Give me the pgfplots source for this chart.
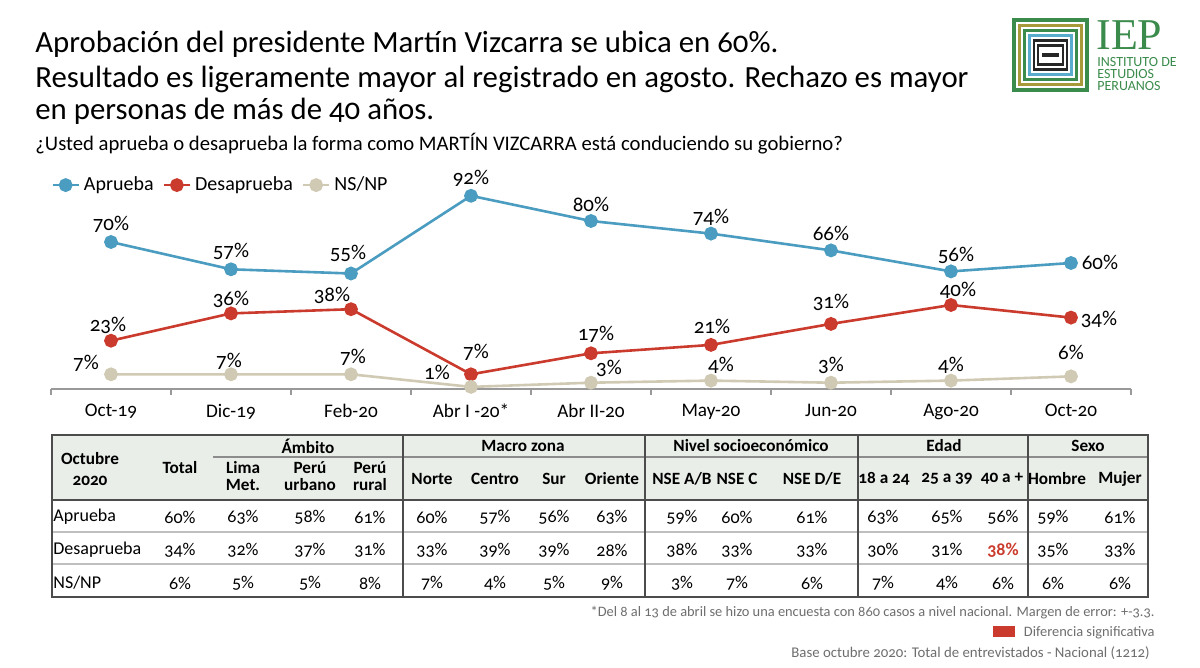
\documentclass[border=0pt]{standalone}
\usepackage{fontspec}
\setmainfont{Carlito}[Numbers=OldStyle]
\newfontfamily\serifF{Liberation Serif}
\usepackage{pgfplots}
\pgfplotsset{compat=1.18}
\definecolor{cA}{HTML}{4A9CC0}
\definecolor{cD}{HTML}{CB3B2D}
\definecolor{cN}{HTML}{D0CAB4}
\definecolor{hdr}{HTML}{E9EEE9}
\definecolor{logoG}{HTML}{3B8C4C}
\definecolor{logoO}{HTML}{A8993A}
\definecolor{logoB}{HTML}{5AACCF}
\definecolor{fng}{HTML}{6E6E6E}
\newcommand{\tf}{\fontsize{9}{10.5}\selectfont}
\newcommand{\thf}{\fontsize{8.6}{10.5}\selectfont}
\newcommand{\lblfont}{\fontsize{10.5}{12}\selectfont}
\newcommand{\fnf}{\fontsize{7.2}{8.5}\selectfont}
\newcommand{\lab}[5]{\node[font=\lblfont, inner sep=0pt, xshift={#3*0.5pt}, yshift={#4*0.5pt}] at (axis cs:#1,#2) {#5\%};}
\begin{document}
\begin{tikzpicture}
\begin{scope}[x=0.5pt,y=-0.5pt]
\fill[white] (0,0) rectangle (1200,668);
\path[use as bounding box] (0,0) rectangle (1200,668);
% titles
\node[anchor=base west, inner sep=0pt, font=\fontsize{15.4}{17}\selectfont] at (35,53) {Aprobación del presidente Martín Vizcarra se ubica en 60\%.};
\node[anchor=base west, inner sep=0pt, font=\fontsize{15.4}{17}\selectfont] at (35,88) {Resultado es ligeramente mayor al registrado en agosto. Rechazo es mayor};
\node[anchor=base west, inner sep=0pt, font=\fontsize{15.4}{17}\selectfont] at (35,120) {en personas de más de 40 años.};
\node[anchor=base west, inner sep=0pt, font=\fontsize{10.35}{12}\selectfont] at (35,151) {¿Usted aprueba o desaprueba la forma como MARTÍN VIZCARRA está conduciendo su gobierno?};
% logo
\fill[logoG] (1012,18) rectangle (1089,92);
\fill[white] (1016,22) rectangle (1085,88);
\fill[logoO] (1018,24) rectangle (1083,86);
\fill[white] (1021,27) rectangle (1080,83);
\fill[logoG] (1023,29) rectangle (1078,81);
\fill[white] (1026,32) rectangle (1075,78);
\fill[logoB] (1028,34) rectangle (1073,76);
\fill[white] (1031,37) rectangle (1070,73);
\fill[black!85] (1033,39) rectangle (1068,71);
\fill[white] (1035,42) rectangle (1066,68);
\fill[black!85] (1037,44) rectangle (1064,66);
\fill[white] (1039,47) rectangle (1062,63);
\fill[black!85] (1042,53) rectangle (1059,57);
\node[anchor=base west, inner sep=0pt, text=logoG, font=\serifF\fontsize{22}{22}\selectfont] at (1096,50) {IEP};
\node[anchor=base west, inner sep=0pt, text=logoG, font=\fontsize{7}{8}\selectfont] at (1097,67) {INSTITUTO DE};
\node[anchor=base west, inner sep=0pt, text=logoG, font=\fontsize{7}{8}\selectfont] at (1097,79) {ESTUDIOS};
\node[anchor=base west, inner sep=0pt, text=logoG, font=\fontsize{7}{8}\selectfont] at (1097,91) {PERUANOS};
% table
\fill[hdr] (52,435) rectangle (1148,500);
\draw[black!25, line width=1pt] (52,532) -- (1148,532);
\draw[black!25, line width=1pt] (52,564) -- (1148,564);
\draw[black!45, line width=0.6pt] (213,457) -- (1148,457);
\draw[black!70, line width=0.9pt] (52,500) -- (1148,500);
\foreach \xx in {403,645,858,1028} {\draw[black!70, line width=0.9pt] (\xx,435) -- (\xx,597);}
\draw[black!70, line width=1.1pt] (52,435) rectangle (1148,597);
\begin{scope}[every node/.style={font=\thf\bfseries, inner sep=0pt}]
\node at (308,446) {Ámbito};
\node at (523,446) {Macro zona};
\node at (751,446) {Nivel socioeconómico};
\node at (944,446) {Edad};
\node at (1088,446) {Sexo};
\node at (90,459) {Octubre};
\node at (90,481) {2020};
\node at (180,468) {Total};
\node at (243,468) {Lima};
\node at (243,485) {Met.};
\node at (310,468) {Perú};
\node at (310,485) {urbano};
\node at (370,468) {Perú};
\node at (370,485) {rural};
\foreach \xx/\tt in {432/Norte,495/Centro,554/Sur,612/Oriente,682/NSE A\slash B,737/NSE C,812/NSE D\slash E,884/18 a 24,947/25 a 39,1002/40 a +,1057/Hombre,1120/Mujer}
  {\node at (\xx,479) {\tt};}
\end{scope}
\begin{scope}[every node/.style={font=\tf, inner sep=0pt}]
\node[anchor=west] at (53,517) {Aprueba};
\node[anchor=west] at (53,550) {Desaprueba};
\node[anchor=west] at (53,583) {NS/NP};
\foreach \xx/\a/\d/\n in {180/60/34/6,243/63/32/5,310/58/37/5,370/61/31/8,432/60/33/7,495/57/39/4,554/56/39/5,612/63/28/9,682/59/38/3,737/60/33/7,812/61/33/6,883/63/30/7,947/65/31/4,1053/59/35/6,1120/61/33/6}
  {\node at (\xx,517) {\a\%};
   \node at (\xx,550) {\d\%};
   \node at (\xx,583) {\n\%};}
\node at (1003,517) {56\%};
\node[text=cD, font=\tf\bfseries] at (1003,550) {38\%};
\node at (1003,583) {6\%};
\end{scope}
% footnotes
\node[anchor=base east, inner sep=0pt, text=fng, font=\fnf] at (1155,616) {*Del 8 al 13 de abril se hizo una encuesta con 860 casos a nivel nacional. Margen de error: +-3.3.};
\fill[cD] (993,626) rectangle (1015,637);
\node[anchor=base east, inner sep=0pt, text=fng, font=\fnf] at (1155,636) {Diferencia significativa};
\node[anchor=base east, inner sep=0pt, text=fng, font=\fontsize{7.4}{8.5}\selectfont] at (1150,657) {Base octubre 2020: Total de entrevistados - Nacional (1212)};
\end{scope}

\begin{axis}[
  at={(25.5pt,-194.5pt)}, anchor=south west,
  width=540pt, height=105pt, scale only axis,
  xmin=-0.5, xmax=8.5, ymin=0, ymax=100,
  axis x line=bottom, axis y line=none,
  x axis line style={-, draw=black!40, line width=0.7pt},
  xtick={0,...,8},
  xticklabels={Oct-19,Dic-19,Feb-20,Abr I -20*,Abr II-20,May-20,Jun-20,Ago-20,Oct-20},
  major tick length=0pt,
  minor xtick={-0.5,0.5,...,8.5},
  minor tick length=3pt, tick align=outside,
  minor tick style={draw=black!40, line width=0.7pt},
  xticklabel style={font=\fontsize{9.6}{11}\selectfont, yshift=-4pt},
  clip=false,
  legend columns=3,
  legend style={draw=none, fill=none, at={(0.0,0.971)}, anchor=west, inner xsep=0pt, inner ysep=0pt,
    font=\fontsize{10}{12}\selectfont,
    /tikz/every even column/.append style={column sep=2.5pt}},
  legend image code/.code={\draw[#1, mark repeat=2, mark phase=2] plot coordinates {(0pt,0pt) (6.5pt,0pt) (13pt,0pt)};},
]
\addplot[cA, line width=1.3pt, mark=*, mark size=2.8pt, mark options={solid, fill=cA, draw=cA}] coordinates {(0,70)(1,57)(2,55)(3,92)(4,80)(5,74)(6,66)(7,56)(8,60)};
\addlegendentry{Aprueba}
\addplot[cD, line width=1.3pt, mark=*, mark size=2.8pt, mark options={solid, fill=cD, draw=cD}] coordinates {(0,23)(1,36)(2,38)(3,7)(4,17)(5,21)(6,31)(7,40)(8,34)};
\addlegendentry{Desaprueba}
\addplot[cN, line width=1.3pt, mark=*, mark size=2.8pt, mark options={solid, fill=cN, draw=cN}] coordinates {(0,7)(1,7)(2,7)(3,1)(4,3)(5,4)(6,3)(7,4)(8,6)};
\addlegendentry{NS/NP}
% labels Aprueba
\lab{0}{70}{0}{18}{70}
\lab{1}{57}{0}{18}{57}
\lab{2}{55}{-3}{20}{55}
\lab{3}{92}{0}{17}{92}
\lab{4}{80}{0}{17}{80}
\lab{5}{74}{0}{16}{74}
\lab{6}{66}{0}{17}{66}
\lab{7}{56}{5}{16}{56}
\lab{8}{60}{29}{1}{60}
% labels Desaprueba
\lab{0}{23}{-3}{15}{23}
\lab{1}{36}{0}{14}{36}
\lab{2}{38}{-19}{14}{38}
\lab{3}{7}{5}{22}{7}
\lab{4}{17}{5}{19}{17}
\lab{5}{21}{1}{18}{21}
\lab{6}{31}{0}{21}{31}
\lab{7}{40}{7}{15}{40}
\lab{8}{34}{28}{-2}{34}
% labels NS/NP
\lab{0}{7}{-25}{11}{7}
\lab{1}{7}{-2}{13}{7}
\lab{2}{7}{2}{17}{7}
\lab{3}{1}{-34}{14}{1}
\lab{4}{3}{18}{14}{3}
\lab{5}{4}{10}{15}{4}
\lab{6}{3}{0}{17}{3}
\lab{7}{4}{0}{15}{4}
\lab{8}{6}{0}{24}{6}
\end{axis}
\end{tikzpicture}
\end{document}
